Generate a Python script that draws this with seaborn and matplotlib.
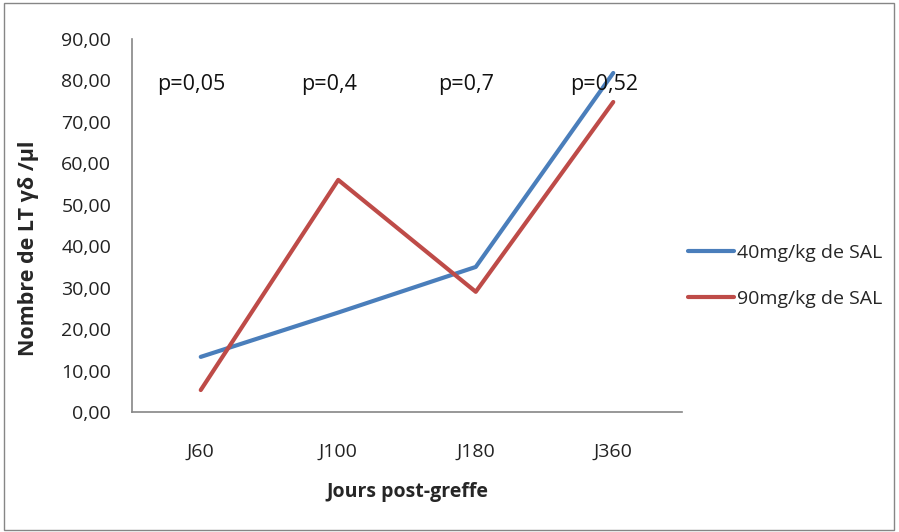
import matplotlib
matplotlib.use("Agg")
import matplotlib.pyplot as plt
import seaborn as sns
import pandas as pd
from matplotlib.ticker import FuncFormatter, FixedLocator
from matplotlib.patches import Rectangle
from matplotlib.lines import Line2D

days = ["J60", "J100", "J180", "J360"]
dose40 = [13.3, 24.0, 35.0, 81.8]
dose90 = [5.3, 56.0, 29.0, 74.8]
series_names = ["40mg/kg de SAL", "90mg/kg de SAL"]
p_labels = ["p=0,05", "p=0,4", "p=0,7", "p=0,52"]

df = pd.DataFrame({
    "day": days * 2,
    "value": dose40 + dose90,
    "series": [series_names[0]] * 4 + [series_names[1]] * 4,
})

sns.set_style("white")
plt.rcParams["font.family"] = ["Open Sans", "DejaVu Sans"]

fig = plt.figure(figsize=(8.99, 5.32), dpi=100)
ax = fig.add_axes([132 / 899, 1 - 412 / 532, 550 / 899, 373 / 532])

palette = {series_names[0]: "#4A7EBB", series_names[1]: "#BE4B48"}
sns.lineplot(data=df, x="day", y="value", hue="series", palette=palette,
             sort=False, linewidth=3, ax=ax, legend=False)

ax.set_xlim(-0.5, 3.5)
ax.set_ylim(0, 90)
ax.set_yticks(range(0, 91, 10))
ax.yaxis.set_major_formatter(FuncFormatter(lambda v, p: f"{v:.2f}".replace(".", ",")))
ax.tick_params(axis="y", length=5, width=1, color="#868686", labelsize=14, pad=10,
               labelcolor="#222222")
ax.tick_params(axis="x", which="major", length=0, labelsize=14, pad=22,
               labelcolor="#222222")
ax.xaxis.set_minor_locator(FixedLocator([0.5, 1.5, 2.5, 3.5]))
ax.tick_params(axis="x", which="minor", length=5, width=1, color="#868686")
for s in ["top", "right"]:
    ax.spines[s].set_visible(False)
for s in ["left", "bottom"]:
    ax.spines[s].set_color("#868686")
    ax.spines[s].set_linewidth(1.2)

ax.set_ylabel("Nombre de LT γδ /µl", fontsize=15.5, fontweight="bold")
ax.yaxis.set_label_coords(-0.189, 0.44)
ax.yaxis.label.set_va("center")
ax.set_xlabel("Jours post-greffe", fontsize=14, fontweight="bold")
ax.xaxis.set_label_coords(0.5, -0.214)
ax.xaxis.label.set_va("center")

for i, lab in enumerate(p_labels):
    ax.text(i - 0.07, 79, lab, ha="center", va="center", fontsize=15.5, color="#111111")

handles = [Line2D([], [], color=palette[n], linewidth=3) for n in series_names]
fig.legend(handles, series_names, loc="center left", bbox_to_anchor=(670 / 899, 1 - 276 / 532),
           frameon=False, fontsize=14, handlelength=2.4, handletextpad=0.15,
           labelspacing=1.45)

fig.patches.append(Rectangle((4 / 899, 2 / 532), 890 / 899, 527 / 532, transform=fig.transFigure,
                             fill=False, edgecolor="#868686", linewidth=1))

fig.savefig("out.png", dpi=100)
